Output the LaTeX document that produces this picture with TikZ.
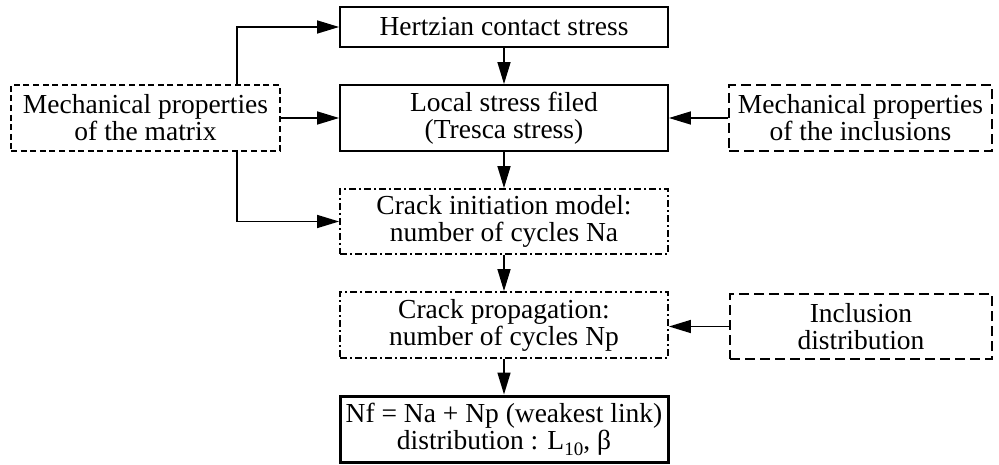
\documentclass[tikz,border=0pt]{standalone}
\usepackage{fontspec}
\setmainfont{Liberation Serif}
\usetikzlibrary{arrows.meta}
\begin{document}
\begin{tikzpicture}[x=1pt,y=-1pt,
  base/.style={align=center, inner sep=0pt, font=\fontsize{27.5}{27}\selectfont, line width=1.8pt},
  solidbox/.style={base, draw},
  thickbox/.style={base, draw, line width=3pt},
  shortdash/.style={base, draw, dash pattern=on 6pt off 3.6pt},
  longdash/.style={base, draw, dash pattern=on 10pt off 5pt},
  dashdotbox/.style={base, draw, dash pattern=on 7pt off 3pt on 2pt off 3pt},
  arr/.style={line width=1.5pt, -{Triangle[length=22pt,width=13pt]}}
]
\useasboundingbox (0,0) rectangle (999,465);
\node[solidbox, minimum width=328pt, minimum height=40pt] (hz) at (504,27) {Hertzian contact stress};
\node[solidbox, minimum width=328pt, minimum height=66pt] (loc) at (504,118) {Local stress filed\\(Tresca stress)};
\node[shortdash, minimum width=269pt, minimum height=66pt] (mat) at (145.5,118) {Mechanical properties\\of the matrix};
\node[longdash, minimum width=263pt, minimum height=66pt] (inc) at (860.5,118) {Mechanical properties\\of the inclusions};
\node[dashdotbox, minimum width=328pt, minimum height=65pt] (ini) at (504,221.5) {Crack initiation model:\\number of cycles Na};
\node[dashdotbox, minimum width=328pt, minimum height=66pt] (prop) at (504,325) {Crack propagation:\\number of cycles Np};
\node[longdash, minimum width=262pt, minimum height=65pt] (dist) at (861,326.5) {Inclusion\\distribution};
\node[thickbox, minimum width=328pt, minimum height=66pt] (nf) at (504,429) {Nf = Na + Np (weakest link)\\distribution : L\raisebox{-0.22em}{\fontsize{19}{19}\selectfont 10}, β};
\coordinate (mtop) at ([xshift=91.5pt]mat.north);
\coordinate (mbot) at ([xshift=91.5pt]mat.south);
\draw[arr] (hz) -- (loc);
\draw[arr] (loc) -- (ini);
\draw[arr] (ini) -- (prop);
\draw[arr] (prop) -- (nf);
\draw[arr] (mtop) |- (hz.west);
\draw[arr] (mbot) |- (ini.west);
\draw[arr] (mat.east) -- (loc.west);
\draw[arr] (inc.west) -- (loc.east);
\draw[arr] (dist.west) -- (dist.west -| prop.east);
\end{tikzpicture}
\end{document}
